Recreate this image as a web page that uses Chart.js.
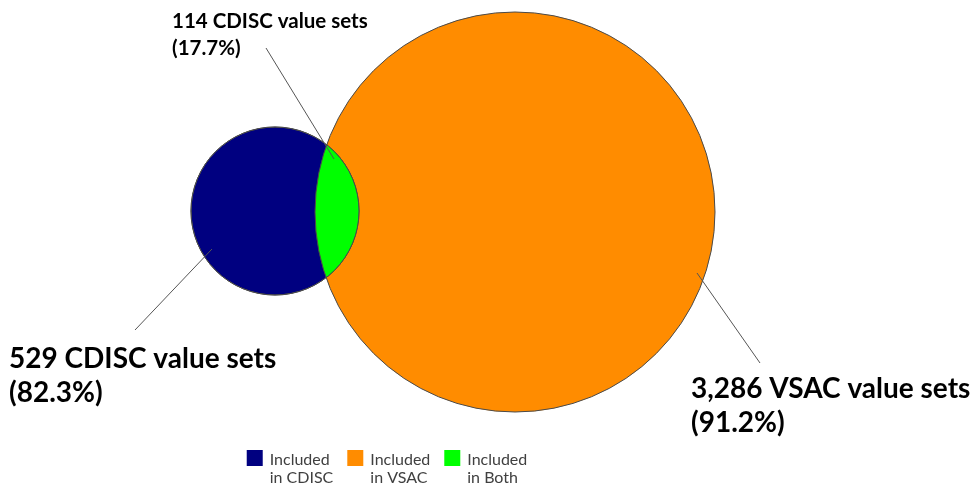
<!DOCTYPE html>
<html>
<head>
<meta charset="utf-8">
<script src="https://cdn.jsdelivr.net/npm/chart.js@4.4.1/dist/chart.umd.min.js"></script>
<style>
  html, body { margin: 0; padding: 0; background: #fff; }
  #wrap { width: 974px; height: 485px; }
</style>
</head>
<body>
<div id="wrap"><canvas id="venn" width="974" height="485"></canvas></div>
<script>
// sets: CDISC, VSAC, overlap
const setNames = [['Included', 'in CDISC'], ['Included', 'in VSAC'], ['Included', 'in Both']]
const setCounts = [529, 3286, 114]
const setShares = [82.3, 91.2, 17.7]
const setUnits = ['CDISC', 'VSAC', 'CDISC']

// circle centres / radii in chart units (x 0..974, y 0..485)
const circleX = [275, 515]
const circleY = [211, 212]
const circleR = [84, 200]

const colors = ['#000080', '#FF8C00', '#00FF00']
const edge = '#4a4a4a'

const fmt = (i) => [
  setCounts[i].toLocaleString('en-US') + ' ' + setUnits[i] + ' value sets',
  '(' + setShares[i].toFixed(1) + '%)'
]

// callouts: text anchor + leader line, in chart units
const callouts = [
  { set: 0, x: 9, y: 368, size: 28, gap: 34, line: [135, 330, 212, 249] },
  { set: 1, x: 691, y: 398, size: 28, gap: 34, line: [697, 273, 760, 363] },
  { set: 2, x: 172, y: 28, size: 20.5, gap: 27, line: [266, 48, 334, 159] },
]

const circlePath = (ctx, el) => {
  ctx.beginPath()
  ctx.arc(el.x, el.y, el.options.radius, 0, Math.PI * 2)
}

const lensPlugin = {
  id: 'lens',
  afterDatasetsDraw(chart) {
    const ctx = chart.ctx
    const a = chart.getDatasetMeta(0).data[0]
    const b = chart.getDatasetMeta(1).data[0]
    if (!a || !b) return
    ctx.save()
    circlePath(ctx, a)
    ctx.clip()
    circlePath(ctx, b)
    ctx.fillStyle = colors[2]
    ctx.fill()
    ctx.strokeStyle = edge
    ctx.lineWidth = 1
    ctx.stroke()
    ctx.restore()
    ctx.save()
    circlePath(ctx, a)
    ctx.strokeStyle = edge
    ctx.lineWidth = 1
    ctx.stroke()
    ctx.restore()
  }
}

const calloutPlugin = {
  id: 'callouts',
  afterDraw(chart) {
    const ctx = chart.ctx
    const xs = chart.scales.x, ys = chart.scales.y
    ctx.save()
    callouts.forEach(c => {
      const l = c.line
      ctx.beginPath()
      ctx.moveTo(xs.getPixelForValue(l[0]), ys.getPixelForValue(l[1]))
      ctx.lineTo(xs.getPixelForValue(l[2]), ys.getPixelForValue(l[3]))
      ctx.strokeStyle = '#555'
      ctx.lineWidth = 1
      ctx.stroke()

      ctx.fillStyle = '#000'
      ctx.font = 'bold ' + c.size + 'px Lato'
      ctx.textAlign = 'left'
      ctx.textBaseline = 'alphabetic'
      fmt(c.set).forEach((t, k) => {
        ctx.fillText(t, xs.getPixelForValue(c.x), ys.getPixelForValue(c.y) + k * c.gap)
      })
    })
    ctx.restore()
  }
}

// legend drawn below the circles, two-line labels
const legendPlugin = {
  id: 'twoLineLegend',
  afterDraw(chart, args, opts) {
    const ctx = chart.ctx
    ctx.save()
    ctx.font = opts.size + 'px Lato'
    const items = chart.data.datasets.map(ds => {
      const w = Math.max(...ds.label.map(t => ctx.measureText(t).width))
      return { label: ds.label, color: ds.backgroundColor, w: opts.box + opts.textGap + w }
    })
    const total = items.reduce((s, it) => s + it.w, 0) + opts.spacing * (items.length - 1)
    let x = opts.centerX - total / 2
    items.forEach(it => {
      ctx.fillStyle = it.color
      ctx.fillRect(x, opts.top, opts.box, opts.box)
      ctx.fillStyle = '#404040'
      ctx.textBaseline = 'alphabetic'
      it.label.forEach((t, k) => {
        ctx.fillText(t, x + opts.box + opts.textGap, opts.baseline + k * opts.lineGap)
      })
      x += it.w + opts.spacing
    })
    ctx.restore()
  }
}

new Chart(document.getElementById('venn'), {
  type: 'bubble',
  data: {
    datasets: [
      {
        label: setNames[0],
        data: [{ x: circleX[0], y: circleY[0], r: circleR[0] }],
        backgroundColor: colors[0],
        borderColor: edge,
        borderWidth: 1,
        clip: false,
      },
      {
        label: setNames[1],
        data: [{ x: circleX[1], y: circleY[1], r: circleR[1] }],
        backgroundColor: colors[1],
        borderColor: edge,
        borderWidth: 1,
        clip: false,
      },
      {
        label: setNames[2],
        data: [],
        backgroundColor: colors[2],
      },
    ]
  },
  options: {
    responsive: false,
    animation: false,
    events: [],
    devicePixelRatio: 1,
    layout: { padding: 0, autoPadding: false },
    scales: {
      x: { type: 'linear', min: 0, max: 974, display: false },
      y: { type: 'linear', min: 0, max: 485, reverse: true, display: false },
    },
    plugins: {
      legend: { display: false },
      tooltip: { enabled: false },
      twoLineLegend: { size: 16, box: 16, textGap: 7, spacing: 14, centerX: 387, top: 450, baseline: 465, lineGap: 18 },
    }
  },
  plugins: [lensPlugin, calloutPlugin, legendPlugin]
})
</script>
</body>
</html>
